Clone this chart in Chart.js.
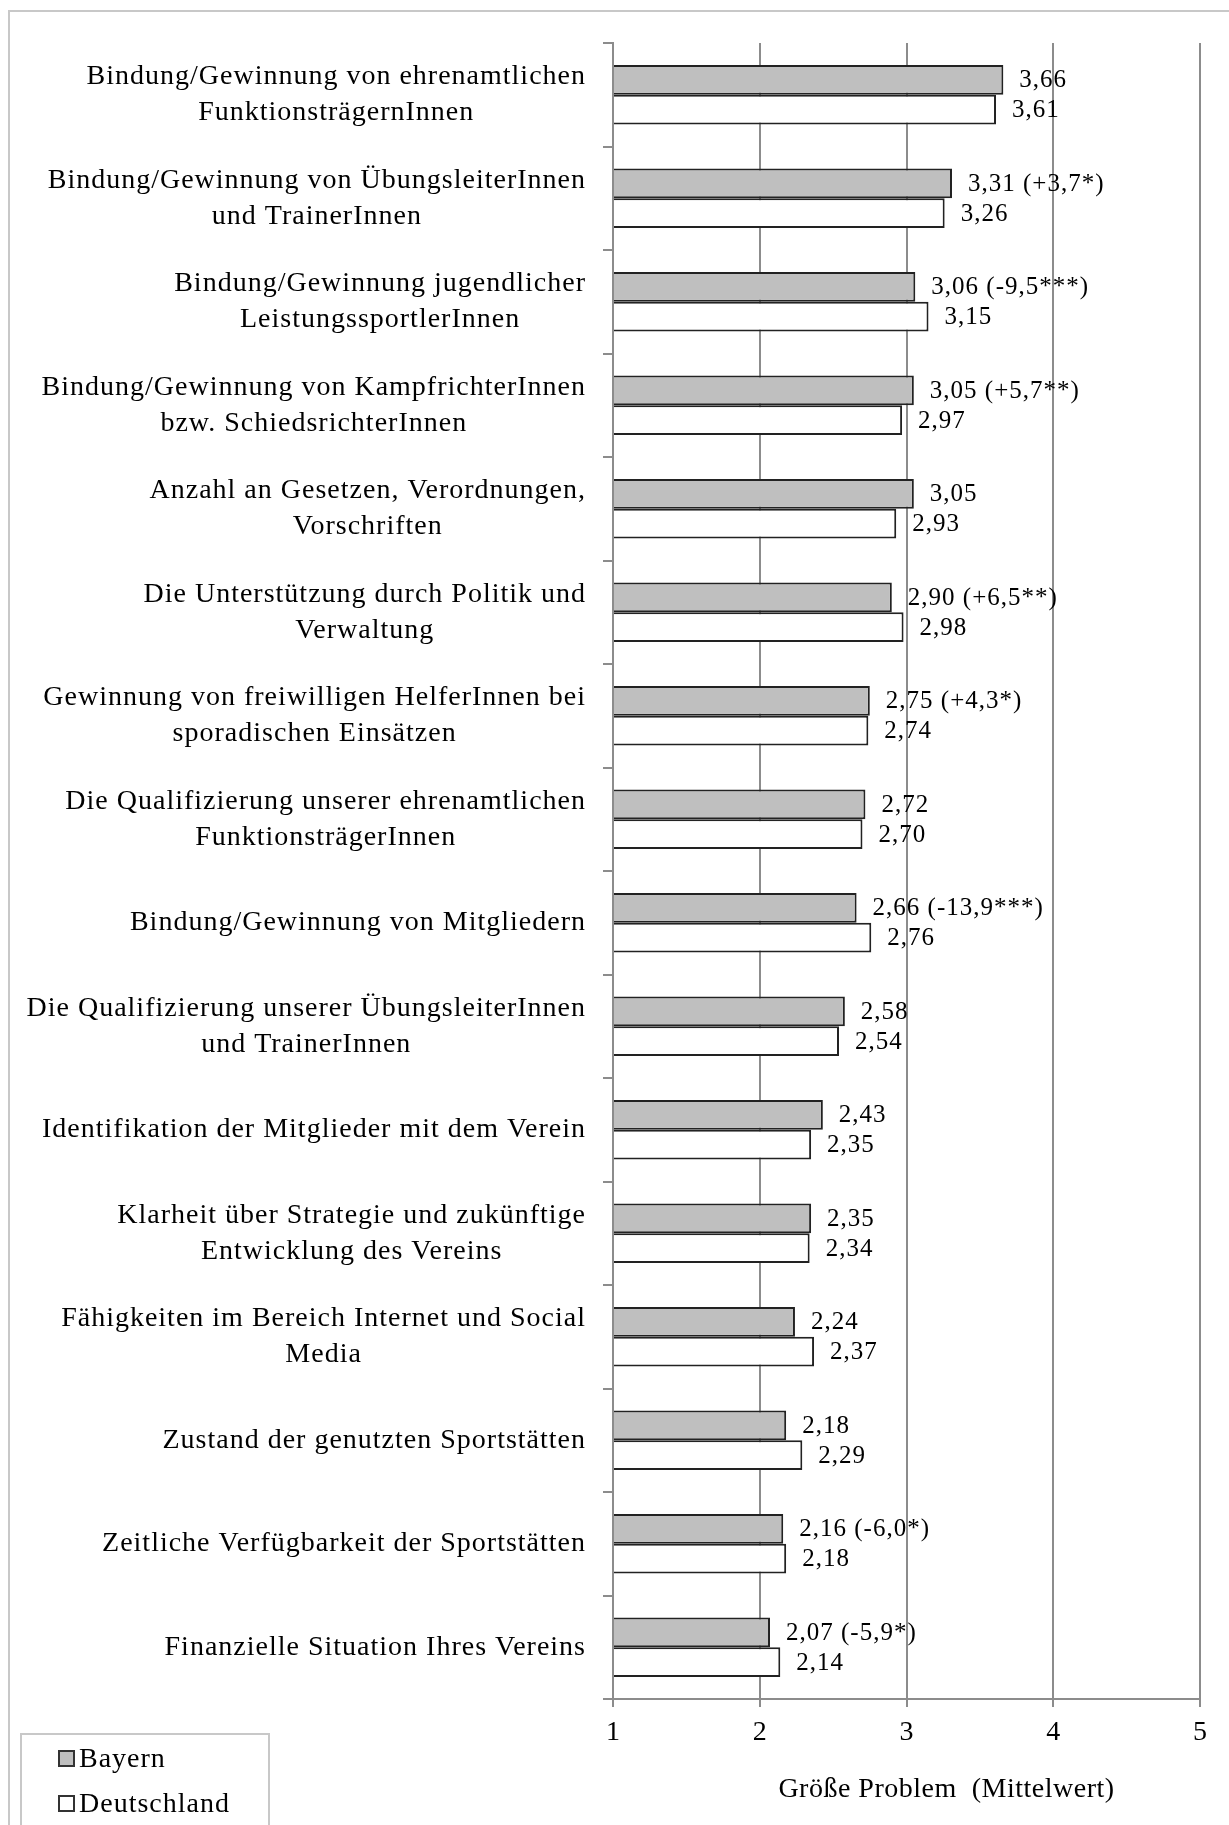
<!DOCTYPE html>
<html lang="de">
<head>
<meta charset="utf-8">
<title>Probleme der Sportvereine – Bayern und Deutschland</title>
<script src="https://cdn.jsdelivr.net/npm/chart.js@4.4.1/dist/chart.umd.min.js"></script>
<style>
  html, body { margin: 0; padding: 0; background: #fff; overflow: hidden; }
  #wrap { position: relative; width: 1229px; height: 1825px; }
  #frame { position: absolute; left: 8px; top: 10px; width: 1400px; height: 2000px; border: 2px solid #c8c8c8; }
  #chartBox { position: absolute; left: 0; top: 0; width: 1229px; height: 1825px; }
  #legend { position: absolute; left: 20px; top: 1733px; width: 246px; height: 200px; border: 2px solid #c8c8c8;
    font: 28px 'Liberation Serif', 'Times New Roman', serif; letter-spacing: 1px; color: #000; }
  .leg-item { position: absolute; left: 36px; height: 36px; line-height: 36px; display: flex; align-items: center; white-space: nowrap; }
  .leg-box { width: 13px; height: 13px; border: 2px solid #333; margin-right: 4px; }
</style>
</head>
<body>
<div id="wrap">
  <div id="frame"></div>
  <div id="chartBox"><canvas id="problemChart"></canvas></div>
  <div id="legend"></div>
</div>
<script>
// Daten: Größe der Probleme (Mittelwert), Bayern vs. Deutschland
const categories = [
  ['Bindung/Gewinnung von ehrenamtlichen', 'FunktionsträgernInnen'],
  ['Bindung/Gewinnung von ÜbungsleiterInnen', 'und TrainerInnen'],
  ['Bindung/Gewinnung jugendlicher', 'LeistungssportlerInnen'],
  ['Bindung/Gewinnung von KampfrichterInnen', 'bzw. SchiedsrichterInnen'],
  ['Anzahl an Gesetzen, Verordnungen,', 'Vorschriften'],
  ['Die Unterstützung durch Politik und', 'Verwaltung'],
  ['Gewinnung von freiwilligen HelferInnen bei', 'sporadischen Einsätzen'],
  ['Die Qualifizierung unserer ehrenamtlichen', 'FunktionsträgerInnen'],
  ['Bindung/Gewinnung von Mitgliedern'],
  ['Die Qualifizierung unserer ÜbungsleiterInnen', 'und TrainerInnen'],
  ['Identifikation der Mitglieder mit dem Verein'],
  ['Klarheit über Strategie und zukünftige', 'Entwicklung des Vereins'],
  ['Fähigkeiten im Bereich Internet und Social', 'Media'],
  ['Zustand der genutzten Sportstätten'],
  ['Zeitliche Verfügbarkeit der Sportstätten'],
  ['Finanzielle Situation Ihres Vereins']
]
const bayern      = [3.66, 3.31, 3.06, 3.05, 3.05, 2.90, 2.75, 2.72, 2.66, 2.58, 2.43, 2.35, 2.24, 2.18, 2.16, 2.07]
const deutschland = [3.61, 3.26, 3.15, 2.97, 2.93, 2.98, 2.74, 2.70, 2.76, 2.54, 2.35, 2.34, 2.37, 2.29, 2.18, 2.14]
// Veränderung in Bayern (Signifikanz), leer = keine Angabe
const bayernDiff  = ['', '+3,7*', '-9,5***', '+5,7**', '', '+6,5**', '+4,3*', '', '-13,9***', '', '', '', '', '', '-6,0*', '-5,9*']
const axisTicks   = [1, 2, 3, 4, 5]
const axisTitle   = 'Größe Problem  (Mittelwert)'

const SERIF = "'Liberation Serif', 'Times New Roman', serif"
const GRID = '#8c8c8c'
const fmt = v => v.toFixed(2).replace('.', ',')

Chart.defaults.font.family = SERIF
Chart.defaults.color = '#000'

// eigene Beschriftungen: Kategorien (zentrierte Zeilen, rechtsbündiger Block), Werte, Achsentitel
const textPlugin = {
  id: 'texts',
  afterDatasetsDraw(chart) {
    const ctx = chart.ctx
    ctx.save()
    ctx.fillStyle = '#000'
    ctx.textBaseline = 'middle'
    ctx.textAlign = 'left'
    ctx.font = '25px ' + SERIF
    ctx.letterSpacing = '1px'
    chart.data.datasets.forEach((ds, di) => {
      chart.getDatasetMeta(di).data.forEach((bar, i) => {
        let txt = fmt(ds.data[i])
        if (di === 0 && bayernDiff[i]) txt += ' (' + bayernDiff[i] + ')'
        ctx.fillText(txt, bar.x + 16, bar.y + 1)
      })
    })
    ctx.restore()
  },
  afterDraw(chart) {
    const ctx = chart.ctx
    const y = chart.scales.y
    const area = chart.chartArea
    ctx.save()
    ctx.fillStyle = '#000'
    ctx.textBaseline = 'middle'
    ctx.textAlign = 'center'
    ctx.font = '28px ' + SERIF
    ctx.letterSpacing = '1px'
    const right = area.left - 27
    categories.forEach((lines, i) => {
      const w = Math.max(...lines.map(l => ctx.measureText(l).width))
      const cx = right - w / 2
      const cy = y.getPixelForValue(i)
      lines.forEach((l, k) => ctx.fillText(l, cx, cy + (k - (lines.length - 1) / 2) * 36))
    })
    ctx.letterSpacing = '0.5px'
    ctx.fillText(axisTitle, (area.left + area.right) / 2 + 40, area.bottom + 91)
    ctx.restore()
  }
}

const chart = new Chart(document.getElementById('problemChart'), {
  type: 'bar',
  data: {
    labels: categories,
    datasets: [
      { label: 'Bayern', data: bayern, backgroundColor: '#bfbfbf', borderColor: '#222', borderWidth: 2, base: 1 },
      { label: 'Deutschland', data: deutschland, backgroundColor: '#ffffff', borderColor: '#222', borderWidth: 2, base: 1 }
    ]
  },
  options: {
    indexAxis: 'y',
    responsive: true,
    maintainAspectRatio: false,
    animation: false,
    categoryPercentage: 0.575,
    barPercentage: 1,
    layout: { padding: { left: 0, right: 29, top: 43, bottom: 0 } },
    plugins: { legend: { display: false }, tooltip: { enabled: false } },
    scales: {
      x: {
        min: 1, max: 5,
        afterBuildTicks: s => { s.ticks = axisTicks.map(v => ({ value: v })) },
        afterFit: s => { s.height = 126 },
        grid: { color: GRID, lineWidth: 2, tickLength: 8 },
        border: { color: GRID, width: 2 },
        ticks: { font: { size: 28 }, color: '#000', padding: 9 }
      },
      y: {
        z: 1,
        afterFit: s => { s.width = 613 },
        grid: { offset: true, drawOnChartArea: false, color: GRID, lineWidth: 2, tickLength: 10 },
        border: { color: GRID, width: 2 },
        ticks: { display: false }
      }
    }
  },
  plugins: [textPlugin]
})

// Legende als HTML
const legendEl = document.getElementById('legend')
chart.data.datasets.forEach((ds, i) => {
  const item = document.createElement('div')
  item.className = 'leg-item'
  item.style.top = (5 + i * 45) + 'px'
  item.innerHTML = '<span class="leg-box" style="background:' + ds.backgroundColor + '"></span><span>' + ds.label + '</span>'
  legendEl.appendChild(item)
})
</script>
</body>
</html>
